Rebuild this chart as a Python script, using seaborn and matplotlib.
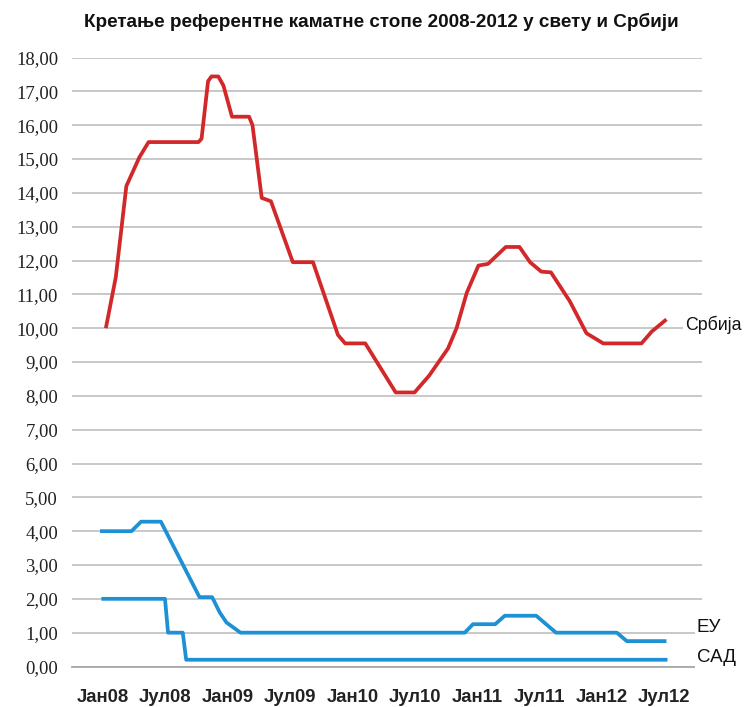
import matplotlib
matplotlib.use("Agg")
import matplotlib.pyplot as plt
import matplotlib.transforms as mtransforms
import pandas as pd
import seaborn as sns

# Key policy rate, Serbia (%)
serbia_dates = ["2008-01-10", "2008-02-08", "2008-03-10", "2008-04-17", "2008-05-14",
                "2008-10-07", "2008-10-16", "2008-11-04", "2008-11-14", "2008-12-04",
                "2008-12-19", "2009-01-13", "2009-03-04", "2009-03-14", "2009-04-10",
                "2009-05-07", "2009-07-10", "2009-09-07", "2009-11-19", "2009-12-10",
                "2010-02-07", "2010-05-07", "2010-07-01", "2010-08-13", "2010-10-07",
                "2010-11-01", "2010-12-01", "2011-01-04", "2011-02-01", "2011-03-25",
                "2011-05-04", "2011-06-04", "2011-07-07", "2011-08-04", "2011-09-28",
                "2011-11-16", "2012-01-04", "2012-04-25", "2012-05-25", "2012-07-07"]
serbia_rates = [10.0, 11.5, 14.2, 15.05, 15.5,
                15.5, 15.6, 17.3, 17.44, 17.44,
                17.17, 16.25, 16.25, 16.0, 13.85,
                13.75, 11.95, 11.95, 9.8, 9.55,
                9.55, 8.1, 8.1, 8.6, 9.4,
                10.0, 11.05, 11.85, 11.9, 12.4,
                12.4, 11.95, 11.67, 11.65, 10.8,
                9.85, 9.55, 9.55, 9.9, 10.26]

# ECB main refinancing rate (%)
eu_dates = ["2007-12-24", "2008-03-25", "2008-04-22", "2008-06-19", "2008-10-10",
            "2008-11-16", "2008-12-08", "2008-12-28", "2009-02-07", "2010-11-25",
            "2010-12-19", "2011-02-22", "2011-03-22", "2011-06-22", "2011-08-19",
            "2012-02-13", "2012-03-13", "2012-07-07"]
eu_rates = [4.0, 4.0, 4.28, 4.28, 2.05,
            2.05, 1.6, 1.3, 1.0, 1.0,
            1.25, 1.25, 1.5, 1.5, 1.0,
            1.0, 0.75, 0.75]

# US federal funds target rate (%)
us_dates = ["2007-12-28", "2008-07-01", "2008-07-10", "2008-08-22", "2008-09-01", "2012-07-10"]
us_rates = [2.0, 2.0, 1.0, 1.0, 0.2, 0.2]

series_names = ["Србија", "ЕУ", "САД"]
series_colors = ["#D3282A", "#1E90D4", "#1E90D4"]
tick_dates = ["2008-01-01", "2008-07-01", "2009-01-01", "2009-07-01", "2010-01-01",
              "2010-07-01", "2011-01-01", "2011-07-01", "2012-01-01", "2012-07-01"]
tick_labels = ["Јан08", "Јул08", "Јан09", "Јул09", "Јан10",
               "Јул10", "Јан11", "Јул11", "Јан12", "Јул12"]
y_ticks = list(range(0, 19))
title = "Кретање референтне каматне стопе 2008-2012 у свету и Србији"

frames = []
for name, d, r in zip(series_names, [serbia_dates, eu_dates, us_dates],
                      [serbia_rates, eu_rates, us_rates]):
    frames.append(pd.DataFrame({"date": pd.to_datetime(d), "rate": r, "series": name}))
df = pd.concat(frames, ignore_index=True)

sns.set_theme(style="white")
plt.rcParams["font.family"] = ["Liberation Sans", "DejaVu Sans"]

fig = plt.figure(figsize=(7.49, 7.07), dpi=100)
ax = fig.add_axes([72 / 749, 1 - 666.5 / 707, 630 / 749, 609 / 707])

sns.lineplot(data=df, x="date", y="rate", hue="series", units="series",
             estimator=None, sort=False, palette=dict(zip(series_names, series_colors)),
             linewidth=2.7, legend=False, ax=ax, zorder=3,
             solid_joinstyle="round", solid_capstyle="butt")

ax.set_ylim(0, 18)
ax.set_xlim(pd.Timestamp("2007-10-03"), pd.Timestamp("2012-10-19"))
ax.set_xlabel("")
ax.set_ylabel("")

# horizontal gridlines
ax.set_yticks(y_ticks)
ax.set_yticklabels([f"{v:.2f}".replace(".", ",") for v in y_ticks],
                   family=["Liberation Serif"], fontsize=13.5, color="#222222")
ax.yaxis.grid(True, color="#C4C4C4", linewidth=1.3, zorder=0)
ax.xaxis.grid(False)
ax.tick_params(axis="y", length=0, pad=10)

ax.set_xticks(pd.to_datetime(tick_dates))
ax.set_xticklabels(tick_labels, fontsize=13.3, fontweight="bold", color="#222222")
ax.tick_params(axis="x", length=4, width=1, color="#A0A0A0", direction="out", pad=12)

for side in ["top", "right", "left"]:
    ax.spines[side].set_visible(False)
ax.spines["bottom"].set_color("#A8A8A8")
ax.spines["bottom"].set_linewidth(1.3)

# series labels at the right end
trans = mtransforms.blended_transform_factory(ax.transAxes, ax.transData)
label_specs = [("Србија", (685 - 72) / 630, 10.1, 12.8),
               ("ЕУ", (697 - 72) / 630, 1.15, 13.5),
               ("САД", (697 - 72) / 630, 0.28, 13.5)]
for text, xa, yv, fs in label_specs:
    ax.text(xa, yv, text, transform=trans, ha="left", va="center", fontsize=fs,
            color="#111111", clip_on=False, zorder=5,
            bbox=dict(facecolor="white", edgecolor="none", pad=1.5))

fig.text(381 / 749, 1 - 21.5 / 707, title, ha="center", va="center",
         fontsize=13.6, fontweight="bold", color="#111111")

fig.savefig("out.png", dpi=100, facecolor="white")
